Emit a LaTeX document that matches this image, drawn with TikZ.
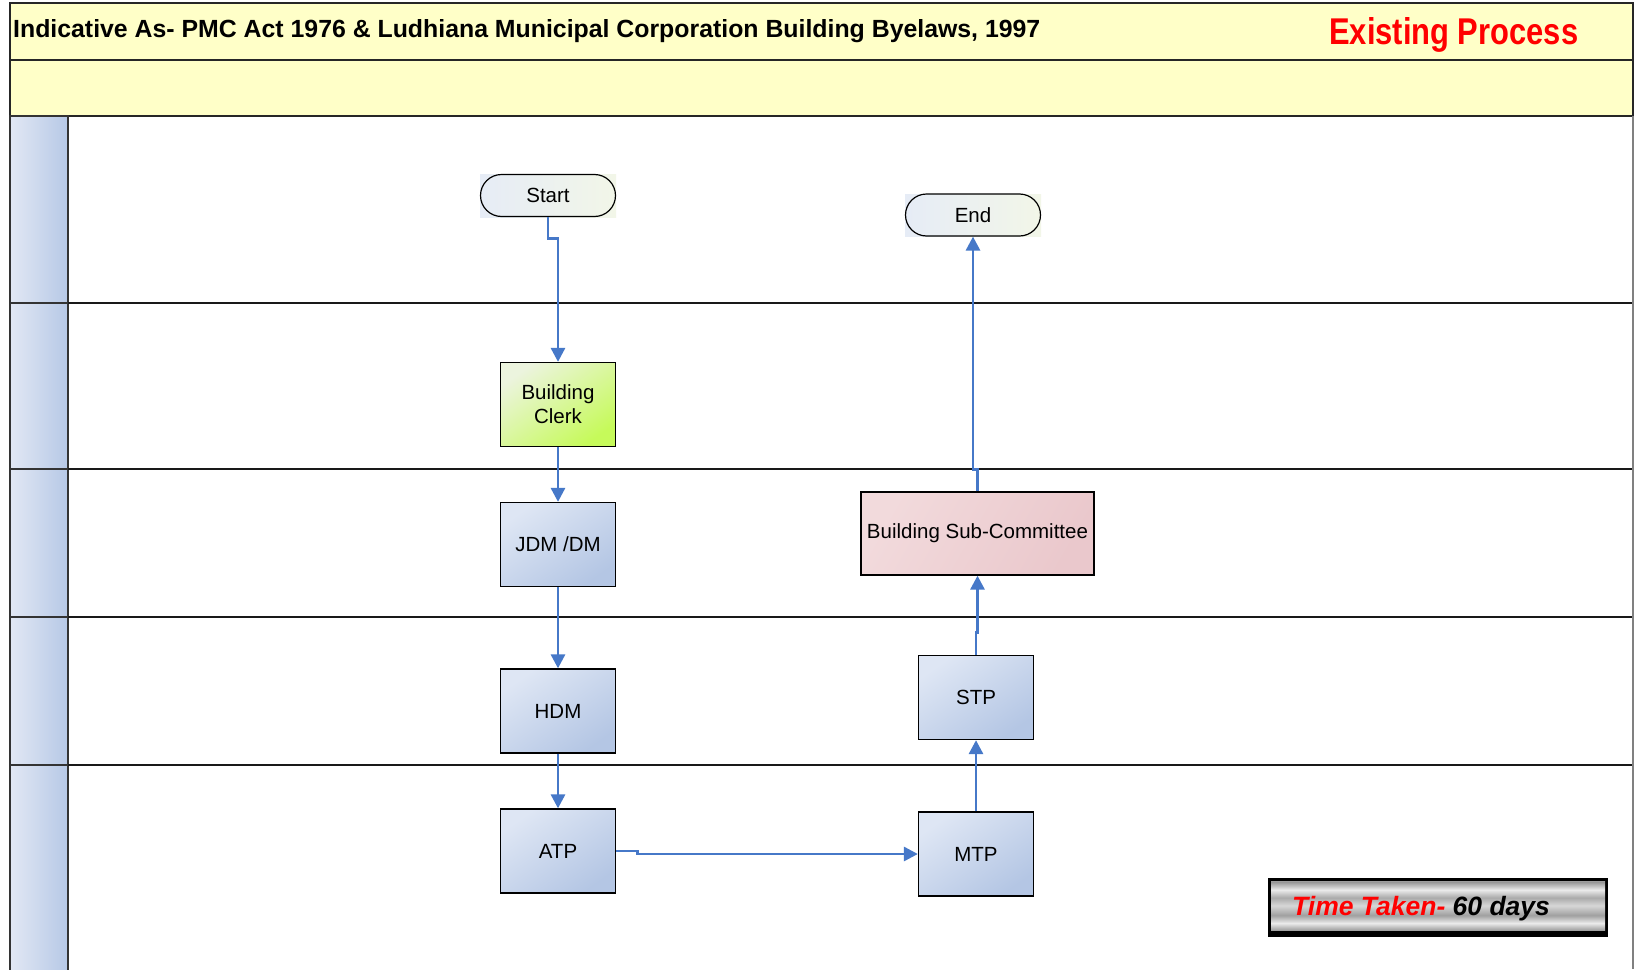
\documentclass[tikz,border=0pt]{standalone}
\usepackage{fontspec}
\setmainfont{Liberation Sans}
\usepackage{graphicx}
\usetikzlibrary{arrows.meta,positioning}
\definecolor{hdryellow}{RGB}{255,255,200}
\definecolor{laneL}{RGB}{226,232,244}
\definecolor{laneR}{RGB}{182,200,230}
\definecolor{boxA}{RGB}{222,230,244}
\definecolor{boxB}{RGB}{180,198,228}
\definecolor{clerkA}{RGB}{236,244,222}
\definecolor{clerkB}{RGB}{198,250,90}
\definecolor{bscA}{RGB}{242,218,220}
\definecolor{bscB}{RGB}{234,200,204}
\definecolor{termA}{RGB}{230,236,246}
\definecolor{termB}{RGB}{242,246,232}
\definecolor{connblue}{RGB}{70,120,200}
\definecolor{mg1}{RGB}{150,150,150}
\definecolor{mg2}{RGB}{215,215,215}
\definecolor{mg3}{RGB}{170,170,170}
\definecolor{mg4}{RGB}{235,235,235}
\definecolor{mg5}{RGB}{160,160,160}
\pgfdeclareverticalshading{metal}{100bp}{%
  color(0bp)=(mg4); color(8bp)=(mg3); color(16bp)=(mg2); color(24bp)=(mg1);
  color(32bp)=(mg4); color(40bp)=(mg5); color(50bp)=(mg2); color(58bp)=(mg3);
  color(66bp)=(mg4); color(74bp)=(mg1); color(84bp)=(mg2); color(92bp)=(mg5);
  color(100bp)=(mg4)}
\tikzset{
  procbox/.style={draw=black, line width=1.3pt, minimum width=115pt, minimum height=84pt,
    inner sep=2pt, align=center, font=\fontsize{20.5}{24}\selectfont,
    top color=boxA, bottom color=boxB, shading angle=35},
  clerkbox/.style={procbox, top color=clerkA, bottom color=clerkB, shading angle=35},
  bscbox/.style={procbox, minimum width=233pt, minimum height=83pt, top color=bscA, bottom color=bscB, shading angle=60},
  termbox/.style={draw=black, line width=1.2pt, rounded corners=21pt, minimum width=135pt,
    minimum height=42pt, inner sep=2pt, font=\fontsize{20.5}{24}\selectfont,
    left color=termA, right color=termB},
  conn/.style={draw=connblue, line width=2.9pt, -{Triangle[length=14pt,width=14pt]}},
  laneline/.style={draw=black!90, line width=1.4pt},
  lanehead/.style={left color=laneL, right color=laneR, draw=black!80, line width=1.2pt}
}
\begin{document}
\begin{tikzpicture}[x=1pt,y=-1pt]
\useasboundingbox (0,0) rectangle (1635,969);
\fill[white] (0,0) rectangle (1635,969);
% header
\draw[fill=hdryellow, draw=black!85, line width=1.4pt] (10,3) rectangle (1633,60);
\draw[fill=hdryellow, draw=black!85, line width=1.4pt] (10,60) rectangle (1633,116);
\node[anchor=base west, inner sep=0] (title) at (13,37) {\resizebox{1027pt}{!}{\bfseries Indicative As- PMC Act 1976 \& Ludhiana Municipal Corporation Building Byelaws, 1997}};
\node[anchor=base west, inner sep=0, text=red] (existing) at (1329,44) {\resizebox{249pt}{27pt}{\bfseries Existing Process}};
% lanes
\foreach \a/\b in {116/303,303/469,469/617,617/765,765/975}{
  \shade[lanehead] (10,\a) rectangle (68,\b);
}
\foreach \yy in {303,469,617,765}{
  \draw[laneline] (68,\yy) -- (1633,\yy);
}
\draw[draw=black!50, line width=1.2pt] (1633,116) -- (1633,969);
% terminator backgrounds
\shade[left color=termA, right color=termB] (480,174) rectangle (616,217);
\shade[left color=termA, right color=termB] (905,194) rectangle (1041,236);
% nodes
\node[termbox] (start) at (548,195.5) {Start};
\node[termbox] (endn) at (973,215) {End};
\node[clerkbox] (clerk) at (558,404.5) {Building\\Clerk};
\node[procbox] (jdm) at (558,544.5) {JDM /DM};
\node[procbox] (hdm) at (558,711) {HDM};
\node[procbox] (atp) at (558,851) {ATP};
\node[procbox] (mtp) at (976,854) {MTP};
\node[procbox] (stp) at (976,697.5) {STP};
\node[bscbox] (bsc) at (977.5,533.5) {Building Sub-Committee};
% connectors
\draw[conn] (start.south) -- ++(0,21) -| (clerk.north);
\draw[conn] (clerk.south) -- (jdm.north);
\draw[conn] (jdm.south) -- (hdm.north);
\draw[conn] (hdm.south) -- (atp.north);
\draw[conn] (atp.east) -- ++(21,0) |- (mtp.west);
\draw[conn] (mtp.north) -- (stp.south);
\draw[conn] (stp.north) -- ++(0,-22) -| (bsc.south);
\draw[conn] (bsc.north) -- ++(0,-22) -| (endn.south);
% time taken box
\fill[black] (1268,878) rectangle (1608,937);
\shade[shading=metal] (1271,881) rectangle (1605,930);
\node[anchor=base west, inner sep=0, font=\fontsize{26.5}{30}\selectfont\bfseries\itshape] (timetxt) at (1292,915) {\textcolor{red}{Time Taken-} 60 days};
\end{tikzpicture}
\end{document}
